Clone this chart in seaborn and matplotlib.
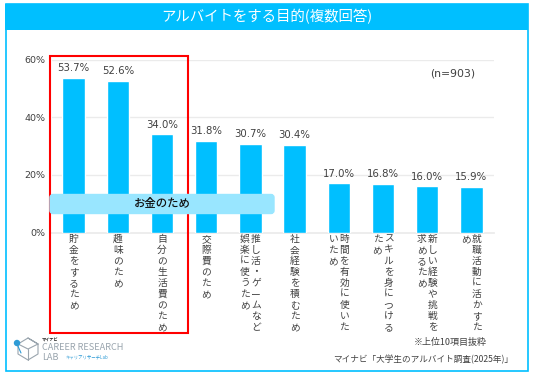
import matplotlib
matplotlib.use("Agg")
import matplotlib.pyplot as plt
from matplotlib.patches import Rectangle, FancyBboxPatch, Circle
import seaborn as sns
import pandas as pd

categories = [
    "貯金をするため", "趣味のため", "自分の生活費のため", "交際費のため",
    "推し活・ゲームなど娯楽に使うため", "社会経験を積むため",
    "時間を有効に使いたいため", "スキルを身につけるため",
    "新しい経験や挑戦を求めるため", "就職活動に活かすため",
]
values = [53.7, 52.6, 34.0, 31.8, 30.7, 30.4, 17.0, 16.8, 16.0, 15.9]
y_ticks = [0, 20, 40, 60]

BLUE = "#00BFFF"
TXT = "#404040"

sns.set_theme(style="white")
plt.rcParams['font.family'] = ['Noto Sans CJK JP', 'DejaVu Sans']

df = pd.DataFrame({"cat": categories, "val": values})

fig = plt.figure(figsize=(5.36, 3.77), dpi=100, facecolor="white")

# chart axes, placed in pixels
L, R, T, B = 51.5, 493.5, 59.5, 232.5
ax = fig.add_axes([L / 536, 1 - B / 377, (R - L) / 536, (B - T) / 377])
sns.barplot(data=df, x="cat", y="val", color=BLUE, saturation=1, width=0.51, ax=ax, zorder=3)
ax.set_xlim(-0.5, 9.5)
ax.set_ylim(0, 60)
ax.set_yticks(y_ticks)
ax.set_yticklabels([f"{t}%" for t in y_ticks], fontsize=6.8, color=TXT, family="DejaVu Sans")
ax.set_xticks([])
ax.set_xlabel("")
ax.set_ylabel("")
ax.tick_params(axis="y", length=0, pad=4.5)
ax.grid(axis="y", color="#EBEBEB", linewidth=1)
ax.set_axisbelow(True)
for s in ["top", "right", "left"]:
    ax.spines[s].set_visible(False)
ax.spines["bottom"].set_color("#EBEBEB")

for i, v in enumerate(values):
    ax.annotate(f"{v:.1f}%", (i, v), xytext=(0, 7), textcoords="offset points",
                ha="center", va="center", fontsize=7.3, color=TXT, family="DejaVu Sans", zorder=5)

# vertical category labels, 9 characters per column, right column first
trans = ax.get_xaxis_transform()
for i, cat in enumerate(categories):
    cols = [cat[j:j + 9] for j in range(0, len(cat), 9)]
    n = len(cols)
    for k, col in enumerate(cols):
        dx = ((n - 1) / 2 - k) * 11
        for m, ch in enumerate(col):
            ax.annotate(ch, (i, 0), xycoords=trans, xytext=(dx * 0.72, -(6.5 + m * 11) * 0.72),
                        textcoords="offset points", ha="center", va="center",
                        fontsize=7, color=TXT, annotation_clip=False)

# overlay in pixel coordinates for frame, title, boxes and logo
ov = fig.add_axes([0, 0, 1, 1], facecolor="none")
ov.set_xlim(0, 536)
ov.set_ylim(377, 0)
ov.axis("off")

ov.add_patch(Rectangle((5.5, 4), 522, 366.5, fill=False, edgecolor=BLUE, linewidth=1.2))
ov.add_patch(Rectangle((5, 3.5), 523, 26.5, facecolor=BLUE, edgecolor="none"))
ov.text(266.5, 17, "アルバイトをする目的(複数回答)", color="white", fontsize=10.4, ha="center", va="center")

ov.add_patch(Rectangle((49.5, 56), 138.5, 277, fill=False, edgecolor="#FF0000", linewidth=1.5, zorder=3))
ov.add_patch(FancyBboxPatch((50, 194.5), 224, 19, boxstyle="round,pad=0,rounding_size=3",
                            facecolor="#99E6FF", edgecolor="#99E6FF", linewidth=1, zorder=4))
ov.text(162, 204, "お金のため", color="#111111", fontsize=8.2, ha="center", va="center",
        fontweight="medium", zorder=5)

ov.text(453, 73, "(n=903)", color=TXT, fontsize=7.8, ha="center", va="center", family="DejaVu Sans")
ov.text(450, 342, "※上位10項目抜粋", color=TXT, fontsize=6.5, ha="center", va="center")
ov.text(423, 359.5, "マイナビ「大学生のアルバイト調査(2025年)」", color=TXT, fontsize=6.2, ha="center", va="center")

# logo
gray = "#9AA5AE"
ov.plot([28, 38, 38, 28, 18, 18, 28, 38], [338, 344, 354, 360, 354, 344, 338, 344], color=gray, lw=0.8)
ov.plot([18, 28, 38], [344, 349, 344], color=gray, lw=0.8)
ov.plot([28, 28], [349, 360], color=gray, lw=0.8)
ov.plot([17, 21], [344, 353], color="#2E9BD6", lw=0.8)
ov.add_patch(Circle((17, 343), 3.2, facecolor="#2E9BD6", edgecolor="none", zorder=3))
ov.text(42, 340, "マイナビ", color="#222222", fontsize=3, ha="left", va="center", fontweight="bold")
ov.text(42, 347.7, "CAREER RESEARCH", color=gray, fontsize=6.6, ha="left", va="center")
ov.text(42, 357, "LAB", color=gray, fontsize=6.6, ha="left", va="center")
ov.text(66, 357, "キャリアリサーチLab", color="#2E9BD6", fontsize=3.2, ha="left", va="center")

fig.savefig("out.png", dpi=100)
